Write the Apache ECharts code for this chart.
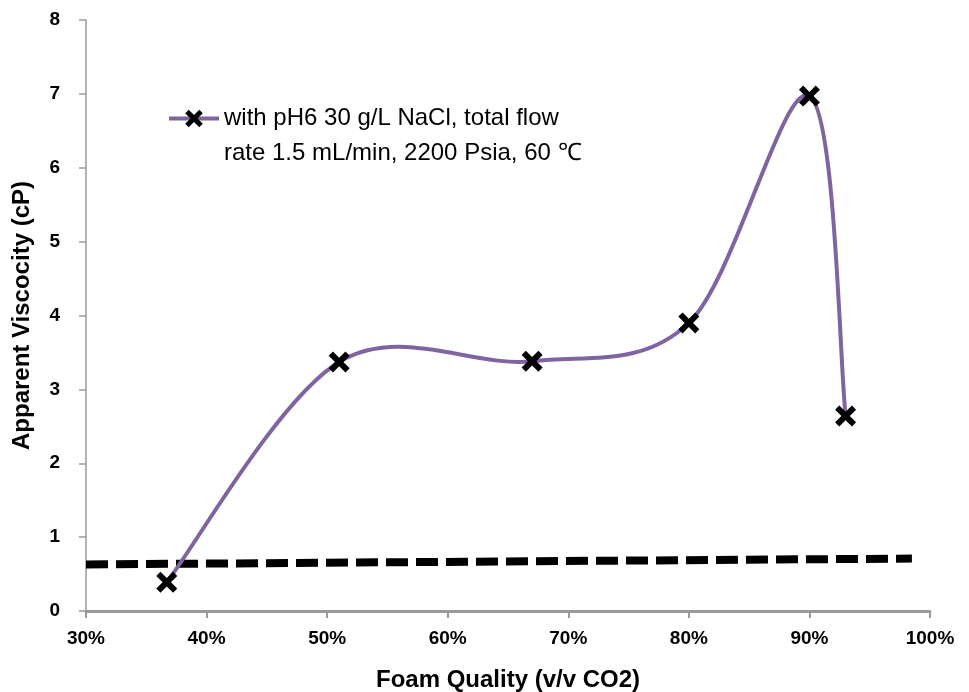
<!DOCTYPE html>
<html>
<head>
<meta charset="utf-8">
<script src="https://cdn.jsdelivr.net/npm/echarts@6/dist/echarts.min.js"></script>
<style>
  html, body { margin: 0; padding: 0; background: #fff; }
  #chart { width: 969px; height: 692px; }
</style>
</head>
<body>
<div id="chart"></div>
<script>
// Foam quality (fraction CO2) and measured apparent viscosity (cP)
const foamQuality = [0.367, 0.51, 0.67, 0.80, 0.90, 0.93];
const viscosity = [0.39, 3.37, 3.38, 3.90, 6.97, 2.64];

// Baseline reference (dashed) endpoints
const baselineX = [0.30, 0.985];
const baselineY = [0.63, 0.71];

const xTicks = [0.3, 0.4, 0.5, 0.6, 0.7, 0.8, 0.9, 1.0];
const yTicks = [0, 1, 2, 3, 4, 5, 6, 7, 8];

const seriesName = 'with pH6 30 g/L NaCl, total flow\nrate 1.5 mL/min, 2200 Psia, 60 \u2103';

const lineColor = '#8064A2';
const crossPath = 'path://M20,0 L50,30 L80,0 L100,20 L70,50 L100,80 L80,100 L50,70 L20,100 L0,80 L30,50 L0,20 Z';

const chart = echarts.init(document.getElementById('chart'));

const axisFont = { fontFamily: 'Liberation Sans', fontWeight: 'bold', fontSize: 19, color: '#000' };
const titleFont = { fontFamily: 'Liberation Sans', fontWeight: 'bold', fontSize: 24, color: '#000' };

// Smoothed curve: one cubic Bezier per segment, tangents from neighbouring points
function renderSegment(params, api) {
  const i = params.dataIndex;
  const n = foamQuality.length;
  if (i >= n - 1) return null;
  const p = k => {
    const j = Math.max(0, Math.min(n - 1, k));
    return api.coord([foamQuality[j], viscosity[j]]);
  };
  const p0 = p(i - 1), p1 = p(i), p2 = p(i + 1), p3 = p(i + 2);
  const t = 1 / 6;
  return {
    type: 'bezierCurve',
    shape: {
      x1: p1[0], y1: p1[1],
      x2: p2[0], y2: p2[1],
      cpx1: p1[0] + (p2[0] - p0[0]) * t, cpy1: p1[1] + (p2[1] - p0[1]) * t,
      cpx2: p2[0] - (p3[0] - p1[0]) * t, cpy2: p2[1] - (p3[1] - p1[1]) * t
    },
    style: { stroke: lineColor, lineWidth: 4, fill: null, lineCap: 'round' }
  };
}

chart.setOption({
  animation: false,
  grid: { left: 86, right: 39, top: 20, bottom: 81, outerBoundsMode: 'none', containLabel: false },
  legend: {
    data: [seriesName],
    left: 167,
    top: 66,
    padding: 0,
    itemWidth: 50,
    itemHeight: 22,
    lineStyle: { color: lineColor, width: 4, opacity: 1 },
    itemStyle: { color: '#000' },
    formatter: name => '\n' + name,
    textStyle: {
      fontFamily: 'Liberation Sans',
      fontSize: 24,
      lineHeight: 35,
      color: '#000'
    }
  },
  xAxis: {
    type: 'value',
    min: xTicks[0],
    max: xTicks[xTicks.length - 1],
    interval: 0.1,
    name: 'Foam Quality (v/v CO2)',
    nameLocation: 'middle',
    nameGap: 57,
    nameTextStyle: titleFont,
    axisLine: { lineStyle: { color: '#9a9a9a', width: 3 } },
    axisTick: { show: true, length: 7, lineStyle: { color: '#9a9a9a', width: 2 } },
    splitLine: { show: false },
    axisLabel: Object.assign({
      margin: 18,
      formatter: v => Math.round(v * 100) + '%'
    }, axisFont)
  },
  yAxis: {
    type: 'value',
    min: yTicks[0],
    max: yTicks[yTicks.length - 1],
    interval: 1,
    name: 'Apparent Viscocity (cP)',
    nameLocation: 'middle',
    nameGap: 52,
    nameTextStyle: titleFont,
    axisLine: { show: true, lineStyle: { color: '#9a9a9a', width: 1.5 } },
    axisTick: { show: true, length: 7, lineStyle: { color: '#9a9a9a', width: 1.5 } },
    splitLine: { show: false },
    axisLabel: Object.assign({ margin: 26 }, axisFont)
  },
  series: [
    {
      name: 'baseline',
      type: 'line',
      data: baselineX.map((x, i) => [x, baselineY[i]]),
      showSymbol: false,
      symbol: 'none',
      lineStyle: { color: '#000', width: 8, type: [22, 8] },
      z: 1
    },
    {
      name: 'curve',
      type: 'custom',
      data: foamQuality.map((x, i) => [x, viscosity[i]]),
      renderItem: renderSegment,
      z: 2
    },
    {
      name: seriesName,
      type: 'line',
      data: foamQuality.map((x, i) => [x, viscosity[i]]),
      symbol: crossPath,
      symbolSize: 21,
      itemStyle: { color: '#000' },
      lineStyle: { color: lineColor, width: 0, opacity: 0 },
      z: 3
    }
  ]
});
</script>
</body>
</html>
